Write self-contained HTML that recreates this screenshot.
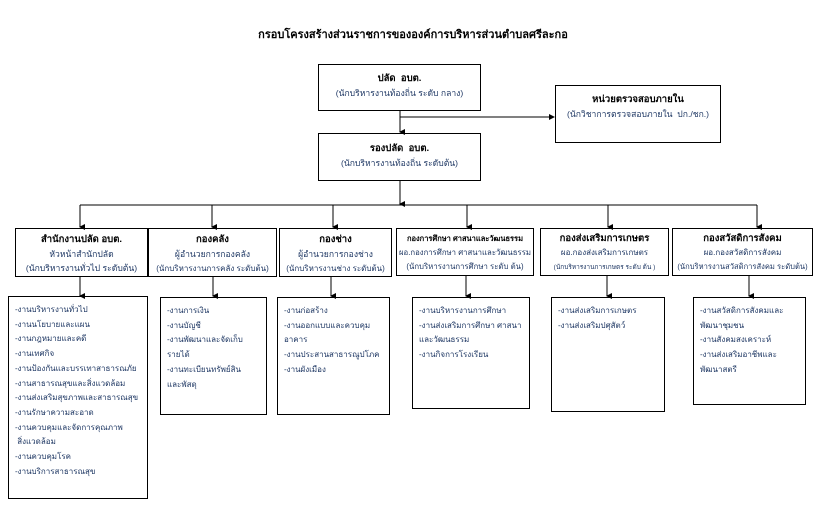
<!DOCTYPE html>
<html><head><meta charset="utf-8"><style>
body{margin:0;width:826px;height:518px;background:#fff;position:relative;overflow:hidden;font-family:"Liberation Sans","Noto Sans CJK SC",sans-serif;}
.b{position:absolute;border:1.5px solid #000;box-sizing:border-box;text-align:center;font-size:8.6px;line-height:14px;color:#1f3864;white-space:nowrap;}
.b b{color:#000;font-size:9.5px;}
.l{position:absolute;border:1.5px solid #000;box-sizing:border-box;font-size:8px;line-height:14.7px;color:#1f3864;padding:6px 0 0 6px;white-space:nowrap;}
.t{position:absolute;left:0;width:826px;top:25px;text-align:center;font-size:11px;font-weight:bold;}
svg{position:absolute;left:0;top:0}
</style></head><body>
<svg width="826" height="518">
<defs><marker id="a" markerWidth="6" markerHeight="6" refX="3" refY="5" orient="auto"><path d="M0,0 L6,0 L3,6z" fill="#000"/></marker>
<marker id="r" markerWidth="6" markerHeight="6" refX="5" refY="3" orient="auto"><path d="M0,0 L6,3 L0,6z" fill="#000"/></marker></defs>
<g stroke="#000" stroke-width="1" fill="none">
<line x1="400" y1="110" x2="400" y2="132" marker-end="url(#a)"/>
<line x1="400" y1="117" x2="554" y2="117" marker-end="url(#r)"/>
<line x1="400" y1="180" x2="400" y2="204" marker-end="url(#a)"/>
<line x1="80" y1="205" x2="757" y2="205"/>
<line x1="80" y1="205" x2="80" y2="227" marker-end="url(#a)"/>
<line x1="212" y1="205" x2="212" y2="227" marker-end="url(#a)"/>
<line x1="333" y1="205" x2="333" y2="227" marker-end="url(#a)"/>
<line x1="467" y1="205" x2="467" y2="227" marker-end="url(#a)"/>
<line x1="608" y1="205" x2="608" y2="227" marker-end="url(#a)"/>
<line x1="757" y1="205" x2="757" y2="227" marker-end="url(#a)"/>
<line x1="80" y1="277" x2="80" y2="296" marker-end="url(#a)"/>
<line x1="213" y1="277" x2="213" y2="296" marker-end="url(#a)"/>
<line x1="331" y1="277" x2="331" y2="296" marker-end="url(#a)"/>
<line x1="466" y1="276" x2="466" y2="296" marker-end="url(#a)"/>
<line x1="607" y1="276" x2="607" y2="296" marker-end="url(#a)"/>
<line x1="749" y1="276" x2="749" y2="296" marker-end="url(#a)"/>
</g></svg>
<div class="t">กรอบโครงสร้างส่วนราชการขององค์การบริหารส่วนตำบลศรีละกอ</div>
<div class="b" style="left:318px;top:64px;width:163px;height:47px;padding-top:6px"><b>ปลัด &nbsp;อบต.</b><br>(นักบริหารงานท้องถิ่น ระดับ กลาง)</div>
<div class="b" style="left:555px;top:85px;width:166px;height:58px;padding-top:6px"><b>หน่วยตรวจสอบภายใน</b><br>(นักวิชาการตรวจสอบภายใน &nbsp;ปก./ชก.)</div>
<div class="b" style="left:318px;top:133px;width:163px;height:48px;padding-top:7px"><b>รองปลัด &nbsp;อบต.</b><br>(นักบริหารงานท้องถิ่น ระดับต้น)</div>

<div class="b" style="left:15px;top:228px;width:133px;height:49px;padding-top:3px"><b>สำนักงานปลัด อบต.</b><br>หัวหน้าสำนักปลัด<br>(นักบริหารงานทั่วไป ระดับต้น)</div>
<div class="b" style="left:148px;top:228px;width:129px;height:49px;padding-top:3px"><b>กองคลัง</b><br>ผู้อำนวยการกองคลัง<br><span style="font-size:8px">(นักบริหารงานการคลัง ระดับต้น)</span></div>
<div class="b" style="left:279px;top:228px;width:113px;height:49px;padding-top:3px"><b>กองช่าง</b><br>ผู้อำนวยการกองช่าง<br><span style="font-size:8px">(นักบริหารงานช่าง ระดับต้น)</span></div>
<div class="b" style="left:396px;top:228px;width:138px;height:48px;padding-top:3px;font-size:7.8px"><b style="font-size:7.5px">กองการศึกษา ศาสนาและวัฒนธรรม</b><br>ผอ.กองการศึกษา ศาสนาและวัฒนธรรม<br>(นักบริหารงานการศึกษา ระดับ ต้น)</div>
<div class="b" style="left:540px;top:228px;width:129px;height:48px;padding-top:3px;font-size:8px"><b>กองส่งเสริมการเกษตร</b><br>ผอ.กองส่งเสริมการเกษตร<br><span style="font-size:6.5px">(นักบริหารงานการเกษตร ระดับ ต้น )</span></div>
<div class="b" style="left:672px;top:228px;width:141px;height:48px;padding-top:3px;font-size:8px"><b>กองสวัสดิการสังคม</b><br>ผอ.กองสวัสดิการสังคม<br><span style="font-size:7.6px">(นักบริหารงานสวัสดิการสังคม ระดับต้น)</span></div>

<div class="l" style="left:8px;top:296px;width:140px;height:203px"><div>-งานบริหารงานทั่วไป</div><div>-งานนโยบายและแผน</div><div>-งานกฎหมายและคดี</div><div>-งานเทศกิจ</div><div>-งานป้องกันและบรรเทาสาธารณภัย</div><div>-งานสาธารณสุขและสิ่งแวดล้อม</div><div>-งานส่งเสริมสุขภาพและสาธารณสุข</div><div>-งานรักษาความสะอาด</div><div>-งานควบคุมและจัดการคุณภาพ</div><div>&nbsp;สิ่งแวดล้อม</div><div>-งานควบคุมโรค</div><div>-งานบริการสาธารณสุข</div></div>
<div class="l" style="left:160px;top:297px;width:107px;height:118px"><div>-งานการเงิน</div><div>-งานบัญชี</div><div>-งานพัฒนาและจัดเก็บ</div><div>รายได้</div><div>-งานทะเบียนทรัพย์สิน</div><div>และพัสดุ</div></div>
<div class="l" style="left:277px;top:297px;width:113px;height:118px"><div>-งานก่อสร้าง</div><div>-งานออกแบบและควบคุม</div><div>อาคาร</div><div>-งานประสานสาธารณูปโภค</div><div>-งานผังเมือง</div></div>
<div class="l" style="left:412px;top:297px;width:118px;height:112px"><div>-งานบริหารงานการศึกษา</div><div>-งานส่งเสริมการศึกษา ศาสนา</div><div>และวัฒนธรรม</div><div>-งานกิจการโรงเรียน</div></div>
<div class="l" style="left:551px;top:297px;width:114px;height:115px"><div>-งานส่งเสริมการเกษตร</div><div>-งานส่งเสริมปศุสัตว์</div></div>
<div class="l" style="left:693px;top:297px;width:113px;height:108px"><div>-งานสวัสดิการสังคมและ</div><div>พัฒนาชุมชน</div><div>-งานสังคมสงเคราะห์</div><div>-งานส่งเสริมอาชีพและ</div><div>พัฒนาสตรี</div></div>
</body></html>
